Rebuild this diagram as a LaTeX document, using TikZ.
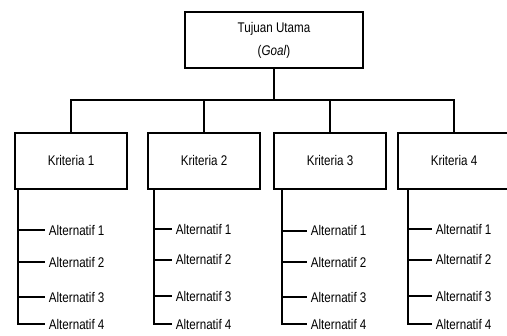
\documentclass[tikz,border=0pt]{standalone}
\usepackage{fontspec}
\setmainfont{Liberation Sans}[FakeStretch=0.83]
\usetikzlibrary{positioning}

\begin{document}
\begin{tikzpicture}[x=1pt,y=-1pt,line width=1.8pt,
  box/.style={draw,rectangle,minimum width=112pt,minimum height=56pt,
    font=\fontsize{14}{23}\selectfont},
  alt/.style={anchor=west,inner sep=3pt,font=\fontsize{14}{16}\selectfont}]
  \useasboundingbox (0,0) rectangle (507,336);
  % goal and criteria
  \node[box,minimum width=178pt,align=center] (goal) at (274,40) {Tujuan Utama\\(\textit{Goal})};
  \coordinate (bar) at (274,100);
  \node[box] (k1) at (71,161) {Kriteria 1};
  \node[box] (k2) at (204,161) {Kriteria 2};
  \node[box] (k3) at (330,161) {Kriteria 3};
  \node[box] (k4) at (454,161) {Kriteria 4};
  \draw (goal.south) -- (bar);
  \draw (k1.north) |- (bar) -| (k4.north);
  \draw (k2.north) -- (k2.north |- bar);
  \draw (k3.north) -- (k3.north |- bar);
  % alternatives under kriteria 1
  \coordinate (s1) at (k1.south -| 18,0);
  \node[alt] (a11) at (45,230) {Alternatif 1};
  \node[alt] (a12) at (45,262) {Alternatif 2};
  \node[alt] (a13) at (45,297) {Alternatif 3};
  \node[alt] (a14) at (45,324) {Alternatif 4};
  \draw (s1) |- (a14.west);
  \draw (s1 |- a11.west) -- (a11.west);
  \draw (s1 |- a12.west) -- (a12.west);
  \draw (s1 |- a13.west) -- (a13.west);
  % alternatives under kriteria 2
  \coordinate (s2) at (k2.south -| 154,0);
  \node[alt] (a21) at (172,229) {Alternatif 1};
  \node[alt] (a22) at (172,260) {Alternatif 2};
  \node[alt] (a23) at (172,296) {Alternatif 3};
  \node[alt] (a24) at (172,324) {Alternatif 4};
  \draw (s2) |- (a24.west);
  \draw (s2 |- a21.west) -- (a21.west);
  \draw (s2 |- a22.west) -- (a22.west);
  \draw (s2 |- a23.west) -- (a23.west);
  % alternatives under kriteria 3
  \coordinate (s3) at (k3.south -| 282,0);
  \node[alt] (a31) at (307,231) {Alternatif 1};
  \node[alt] (a32) at (307,262) {Alternatif 2};
  \node[alt] (a33) at (307,297) {Alternatif 3};
  \node[alt] (a34) at (307,324) {Alternatif 4};
  \draw (s3) |- (a34.west);
  \draw (s3 |- a31.west) -- (a31.west);
  \draw (s3 |- a32.west) -- (a32.west);
  \draw (s3 |- a33.west) -- (a33.west);
  % alternatives under kriteria 4
  \coordinate (s4) at (k4.south -| 408,0);
  \node[alt] (a41) at (432,229) {Alternatif 1};
  \node[alt] (a42) at (432,260) {Alternatif 2};
  \node[alt] (a43) at (432,296) {Alternatif 3};
  \node[alt] (a44) at (432,324) {Alternatif 4};
  \draw (s4) |- (a44.west);
  \draw (s4 |- a41.west) -- (a41.west);
  \draw (s4 |- a42.west) -- (a42.west);
  \draw (s4 |- a43.west) -- (a43.west);
\end{tikzpicture}
\end{document}
